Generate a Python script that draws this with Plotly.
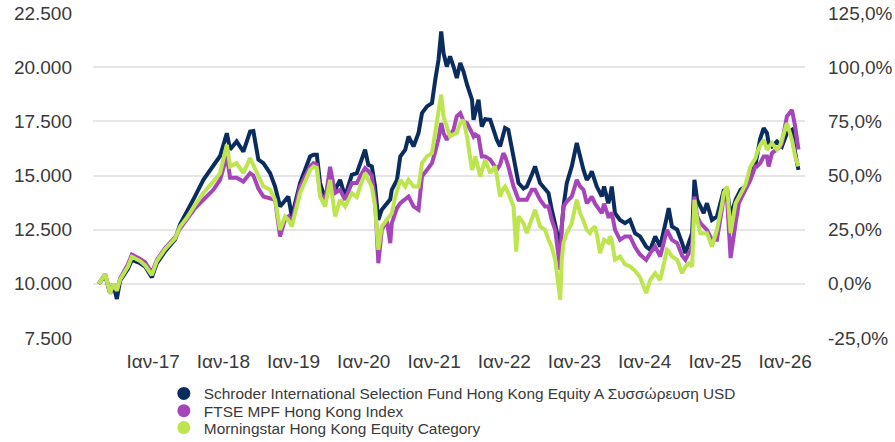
import plotly.graph_objects as go

# ---- data -------------------------------------------------------------
fund_name = "Schroder International Selection Fund Hong Kong Equity A Συσσώρευση USD"
index_name = "FTSE MPF Hong Kong Index"
category_name = "Morningstar Hong Kong Equity Category"

fund_dates = [
    "2016-03-24", "2016-04-26", "2016-05-22", "2016-06-07", "2016-06-26", "2016-07-13",
    "2016-08-23", "2016-09-12", "2016-10-25", "2016-11-20", "2016-12-25", "2017-01-20",
    "2017-03-04", "2017-04-25", "2017-05-21", "2017-06-25", "2017-08-07", "2017-09-19",
    "2017-11-10", "2017-12-15", "2018-01-19", "2018-02-05", "2018-03-11", "2018-04-15",
    "2018-05-20", "2018-06-06", "2018-07-02", "2018-07-28", "2018-09-01", "2018-09-27",
    "2018-10-23", "2018-11-18", "2018-12-05", "2018-12-23", "2019-02-04", "2019-03-28",
    "2019-04-15", "2019-05-02", "2019-05-19", "2019-06-14", "2019-07-10", "2019-08-05",
    "2019-08-31", "2019-09-26", "2019-10-31", "2019-11-26", "2019-12-13", "2020-01-08",
    "2020-01-25", "2020-02-12", "2020-02-29", "2020-03-17", "2020-04-04", "2020-04-30",
    "2020-05-18", "2020-05-26", "2020-06-13", "2020-06-22", "2020-07-09", "2020-08-04",
    "2020-08-21", "2020-09-16", "2020-10-12", "2020-10-30", "2020-11-25", "2020-12-21",
    "2021-01-07", "2021-01-24", "2021-02-07", "2021-02-19", "2021-03-08", "2021-03-25",
    "2021-04-12", "2021-04-29", "2021-05-17", "2021-06-03", "2021-06-21", "2021-07-17",
    "2021-07-25", "2021-08-03", "2021-08-20", "2021-08-29", "2021-09-06", "2021-09-24",
    "2021-10-20", "2021-11-14", "2021-11-23", "2021-12-10", "2021-12-27", "2022-01-05",
    "2022-01-22", "2022-02-18", "2022-03-04", "2022-03-16", "2022-04-11", "2022-04-28",
    "2022-05-24", "2022-06-10", "2022-07-06", "2022-08-01", "2022-08-19", "2022-09-05",
    "2022-09-23", "2022-10-19", "2022-10-27", "2022-11-05", "2022-11-22", "2022-12-18",
    "2023-01-13", "2023-01-30", "2023-02-17", "2023-03-06", "2023-03-23", "2023-04-01",
    "2023-04-18", "2023-04-27", "2023-05-14", "2023-05-23", "2023-06-04", "2023-06-26",
    "2023-07-05", "2023-07-14", "2023-07-31", "2023-08-26", "2023-09-21", "2023-10-17",
    "2023-11-12", "2023-12-08", "2024-01-09", "2024-01-30", "2024-02-25", "2024-03-22",
    "2024-04-26", "2024-05-05", "2024-05-22", "2024-06-18", "2024-07-14", "2024-07-31",
    "2024-08-17", "2024-09-04", "2024-09-16", "2024-09-30", "2024-10-17", "2024-11-03",
    "2024-11-20", "2024-12-16", "2025-01-11", "2025-02-07", "2025-02-15", "2025-03-05",
    "2025-03-23", "2025-04-18", "2025-05-05", "2025-05-14", "2025-06-08", "2025-07-04",
    "2025-07-30", "2025-08-07", "2025-08-24", "2025-09-11", "2025-09-28", "2025-10-07",
    "2025-10-24", "2025-11-19", "2025-12-06", "2025-12-15", "2026-01-10", "2026-02-05",
    "2026-02-22", "2026-03-11",
]
fund_values = [
    10000, 10400, 9550, 10000, 9300, 10150,
    10700, 11100, 10950, 10800, 10300, 10950,
    11500, 12050, 12750, 13300, 14050, 14800,
    15420, 15900, 16950, 16200, 16570, 16100,
    17030, 17050, 15730, 15570, 15110, 14490,
    13570, 13880, 14030, 13110, 14650, 15880,
    15960, 15960, 14650, 13900, 15000, 14340,
    14800, 14030, 15030, 15110, 15490, 16190,
    15490, 15420, 14490, 12950, 13420, 13720,
    13900, 14340, 14650, 14800, 15880, 16190,
    16800, 16340, 16960, 17880, 18190, 18340,
    19420, 20340, 21650, 20650, 20030, 20500,
    20030, 19500, 20190, 19800, 19200, 18500,
    17570, 17900, 18500, 17800, 17260, 17600,
    17570, 16900, 16650, 16340, 17000, 17190,
    17110, 15880, 15420, 14650, 14400, 14490,
    15030, 15420, 14650, 14340, 14190, 13420,
    12650, 11720, 12650, 13570, 14650, 15420,
    16500, 15880, 15260, 14800, 15000, 15190,
    14700, 14490, 14200, 14030, 14490, 13720,
    14000, 14490, 13260, 12950, 12800, 12950,
    12340, 12190, 11720, 11570, 12190, 11720,
    13110, 13490, 12650, 12500, 11880, 11420,
    11880, 12340, 14800, 13880, 13570, 13260,
    13720, 12950, 13110, 14190, 14300, 14340,
    13110, 13880, 14200, 14340, 14500, 15110,
    15500, 15880, 16700, 17190, 16960, 16500,
    16340, 16570, 16400, 16340, 16960, 17110,
    16030, 15260,
]

index_dates = fund_dates
index_values = [
    10000, 10450, 9600, 10000, 9650, 10250,
    10900, 11350, 11150, 11000, 10500, 11100,
    11650, 12150, 12550, 12950, 13500, 13880,
    14340, 14800, 15900, 14900, 14900, 14720,
    15110, 15000, 14400, 14030, 13950, 13880,
    12190, 13000, 13110, 12800, 14490, 15420,
    15570, 15500, 14190, 13800, 15400, 14190,
    14340, 13880, 14650, 14650, 14950, 15340,
    15200, 15000, 13880, 10950, 12490, 12950,
    11880, 12800, 13260, 13500, 13720, 13900,
    14030, 13570, 13420, 14950, 15260, 15570,
    16100, 16700, 17420, 16960, 16650, 16900,
    17110, 17730, 17880, 17500, 17420, 16960,
    16800, 16900, 16800, 16300, 15880, 15880,
    15730, 15400, 15260, 15500, 16030, 15900,
    15420, 14490, 14190, 13880, 13880, 13880,
    14340, 14340, 13880, 13570, 13570, 12950,
    12490, 10650, 12650, 13570, 13800, 14030,
    14800, 14500, 14340, 13720, 13900, 14030,
    13700, 13570, 13400, 13260, 13700, 13110,
    13110, 13300, 12490, 12030, 12190, 12190,
    11700, 11350, 11100, 11420, 11720, 11260,
    12490, 12300, 12030, 11880, 11300, 11110,
    11420, 11720, 14030, 13110, 12800, 12650,
    12490, 12030, 12030, 13500, 14030, 13880,
    11190, 12800, 13720, 13900, 14340, 14800,
    15420, 15420, 15570, 15880, 15880, 15420,
    16030, 16200, 16340, 16500, 17730, 18030,
    17260, 16200,
]

category_dates = fund_dates
category_values = [
    10000, 10450, 9550, 10000, 9700, 10200,
    10800, 11250, 11050, 10850, 10400, 11050,
    11600, 12100, 12650, 13050, 13650, 14190,
    14720, 15110, 16420, 15420, 15570, 15110,
    15800, 15500, 15000, 14500, 14340, 13880,
    12490, 13110, 12950, 12650, 14190, 15260,
    15420, 15350, 14030, 13570, 14800, 13110,
    13880, 13570, 14190, 14000, 14490, 15110,
    14800, 14490, 13570, 11570, 12650, 12950,
    13100, 13260, 14000, 14340, 14800, 14490,
    14800, 14490, 14490, 15570, 15880, 16030,
    16960, 17880, 18730, 17730, 17260, 16800,
    16900, 16960, 17420, 17570, 16800, 15260,
    15500, 15880, 15300, 14950, 15200, 15730,
    15110, 15420, 15000, 14030, 14400, 14490,
    14190, 13570, 11490, 13110, 12800, 12340,
    13000, 13420, 12650, 12490, 12030, 11700,
    11100, 9260, 11110, 11900, 12340, 12800,
    13880, 13260, 12900, 12490, 12340, 12500,
    12650, 12300, 11420, 11700, 12030, 11900,
    12190, 12000, 11110, 11260, 10900, 10800,
    10600, 10300, 9570, 10180, 10490, 10180,
    11570, 11500, 11260, 11110, 10490, 10800,
    10950, 10800, 13880, 12950, 12340, 12340,
    12340, 11720, 12500, 13700, 14190, 14490,
    12340, 13720, 14000, 14190, 14570, 15400,
    15800, 16030, 16400, 16650, 16190, 16300,
    16500, 16190, 16400, 16650, 17420, 16650,
    15880, 15420,
]

# axis labelling
x_tick_dates = ["2017-01-01", "2018-01-01", "2019-01-01", "2020-01-01", "2021-01-01",
                "2022-01-01", "2023-01-01", "2024-01-01", "2025-01-01", "2026-01-01"]
x_tick_text = ["Ιαν-17", "Ιαν-18", "Ιαν-19", "Ιαν-20", "Ιαν-21",
               "Ιαν-22", "Ιαν-23", "Ιαν-24", "Ιαν-25", "Ιαν-26"]
y_tick_vals = [7500, 10000, 12500, 15000, 17500, 20000, 22500]
y_tick_text = ["7.500", "10.000", "12.500", "15.000", "17.500", "20.000", "22.500"]
pct_tick_vals = [-25, 0, 25, 50, 75, 100, 125]
pct_tick_text = ["-25,0%", "0,0%", "25,0%", "50,0%", "75,0%", "100,0%", "125,0%"]

# ---- styling ----------------------------------------------------------
NAVY = "#0b2c5e"
PURPLE = "#a545b9"
GREEN = "#bde54f"
TEXT = "#3a3a3a"
FONT = "Liberation Sans, Arial, sans-serif"

series = [
    (fund_name, fund_dates, fund_values, NAVY, "legend"),
    (index_name, index_dates, index_values, PURPLE, "legend2"),
    (category_name, category_dates, category_values, GREEN, "legend3"),
]

fig = go.Figure()

for name, d, v, color, _ in series:
    fig.add_trace(go.Scatter(
        x=d, y=v, mode="lines", name=name, showlegend=False,
        line=dict(color=color, width=4), hoverinfo="skip",
    ))

# legend entries with round markers, one legend per row
for name, _, _, color, leg in series:
    fig.add_trace(go.Scatter(
        x=[None], y=[None], mode="markers", name=name, legend=leg,
        marker=dict(color=color, size=13, symbol="circle"),
    ))

# percentage axis companion (same scale as the value axis, rebased at 10.000)
fig.add_trace(go.Scatter(x=[None], y=[None], yaxis="y2", showlegend=False,
                         hoverinfo="skip"))

legend_common = dict(
    x=0.0995, xanchor="left", yanchor="middle",
    font=dict(family=FONT, size=15.4, color=TEXT),
    bgcolor="rgba(0,0,0,0)", borderwidth=0,
)

fig.update_layout(
    width=895, height=442,
    margin=dict(l=93, r=90, t=13, b=104, autoexpand=False),
    paper_bgcolor="white", plot_bgcolor="white",
    font=dict(family=FONT, size=19, color=TEXT),
    xaxis=dict(
        type="date", range=["2016-02-23", "2026-04-14"],
        tickvals=x_tick_dates, ticktext=x_tick_text,
        showgrid=False, zeroline=False, showline=False, ticks="",
        tickfont=dict(family=FONT, size=19, color=TEXT),
        ticklabelstandoff=10,
    ),
    yaxis=dict(
        range=[7500, 22500], tickvals=y_tick_vals, ticktext=y_tick_text,
        showgrid=True, gridcolor="#e6e6e6", gridwidth=2,
        zeroline=False, showline=False, ticks="",
        tickfont=dict(family=FONT, size=19, color=TEXT),
        ticklabelstandoff=20,
    ),
    yaxis2=dict(
        overlaying="y", side="right", range=[-25, 125],
        tickvals=pct_tick_vals, ticktext=pct_tick_text,
        showgrid=False, zeroline=False, showline=False, ticks="",
        tickfont=dict(family=FONT, size=19, color=TEXT),
        ticklabelstandoff=22,
    ),
    legend=dict(y=-0.172, **legend_common),
    legend2=dict(y=-0.225, **legend_common),
    legend3=dict(y=-0.277, **legend_common),
)

fig.write_html("out.html")
